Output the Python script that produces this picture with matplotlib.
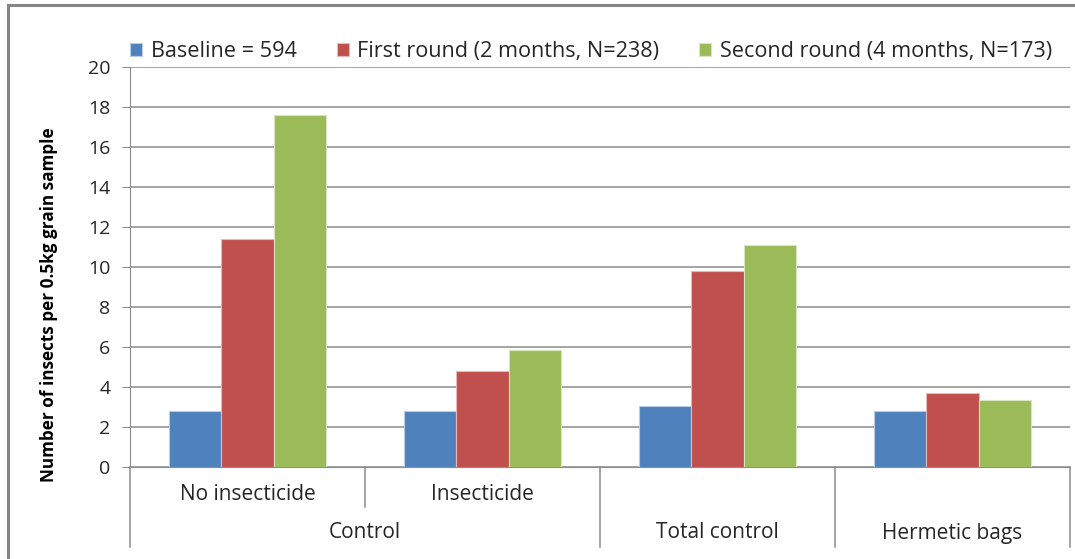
import numpy as np
import matplotlib.pyplot as plt
import matplotlib.transforms as mtransforms
from matplotlib.patches import Rectangle

plt.rcParams['font.family'] = ['Open Sans', 'DejaVu Sans']

# insects per 0.5 kg grain sample, by storage practice
groups = ['No insecticide', 'Insecticide', 'Total control', 'Hermetic bags']
baseline = [2.78, 2.78, 3.03, 2.78]
first_round = [11.38, 4.80, 9.80, 3.68]
second_round = [17.58, 5.85, 11.08, 3.33]
series_names = ['Baseline = 594', 'First round (2 months, N=238)',
                'Second round (4 months, N=173)']
colors = ['#4F81BD', '#C0504D', '#9BBB59']
edge_colors = ['#B8CCE4', '#E6B9B8', '#D7E4BD']
txt = '#262626'

W, H = 1075, 559
fig = plt.figure(figsize=(W / 100, H / 100), dpi=100)
ax = fig.add_axes([130 / W, (H - 467) / H, 940 / W, 400 / H])

# chart border
fig.patches.append(Rectangle((8 / W, -0.1), 1.2, 1.1 - 5 / H, transform=fig.transFigure,
                             fill=False, edgecolor='#868686', linewidth=2.2))

x = np.arange(len(groups))
bw = 0.223
for i, vals in enumerate([baseline, first_round, second_round]):
    ax.bar(x + (i - 1) * bw, vals, bw, color=colors[i], edgecolor=edge_colors[i],
           linewidth=0.8, label=series_names[i], zorder=3)

ax.set_xlim(-0.5, len(groups) - 0.5)
ax.set_ylim(0, 20)
ax.set_yticks(np.arange(0, 21, 2))
ax.yaxis.grid(True, color='#8C8C8C', linewidth=1.1)
ax.set_axisbelow(True)
for s in ['top', 'right']:
    ax.spines[s].set_visible(False)
ax.spines['left'].set_color('#8C8C8C')
ax.spines['bottom'].set_color('#8C8C8C')
ax.tick_params(axis='y', length=6, color='#8C8C8C', labelsize=14, labelcolor=txt, pad=8)
ax.tick_params(axis='x', bottom=False, labelbottom=False)

ax.set_ylabel('Number of insects per 0.5kg grain sample', fontsize=12.3,
              fontweight='bold', color='black')
ax.yaxis.set_label_coords(-0.077, 0.405)

# two-level category axis
tr = mtransforms.blended_transform_factory(ax.transData, ax.transAxes)
line_kw = dict(color='#8C8C8C', linewidth=1.1, transform=tr, clip_on=False)
ax.plot([-0.5, -0.5], [0, -0.2], **line_kw)
ax.plot([0.5, 0.5], [0, -0.1], **line_kw)
for b in [1.5, 2.5, 3.5]:
    ax.plot([b, b], [0, -0.2], **line_kw)
for i, g in enumerate(groups[:2]):
    ax.text(i, -0.068, g, transform=tr, ha='center', va='center', fontsize=15, color=txt)
ax.text(0.5, -0.165, 'Control', transform=tr, ha='center', va='center', fontsize=15,
        color=txt)
for i, g in enumerate(groups[2:], start=2):
    ax.text(i, -0.165, g, transform=tr, ha='center', va='center', fontsize=15, color=txt)

ax.legend(loc='lower left', bbox_to_anchor=(-0.009, 0.99), ncol=3, frameon=False,
          fontsize=15.6, handlelength=0.55, handleheight=0.55, handletextpad=0.4,
          columnspacing=1.85, borderaxespad=0, labelcolor=txt)

fig.savefig('out.png', dpi=100)
